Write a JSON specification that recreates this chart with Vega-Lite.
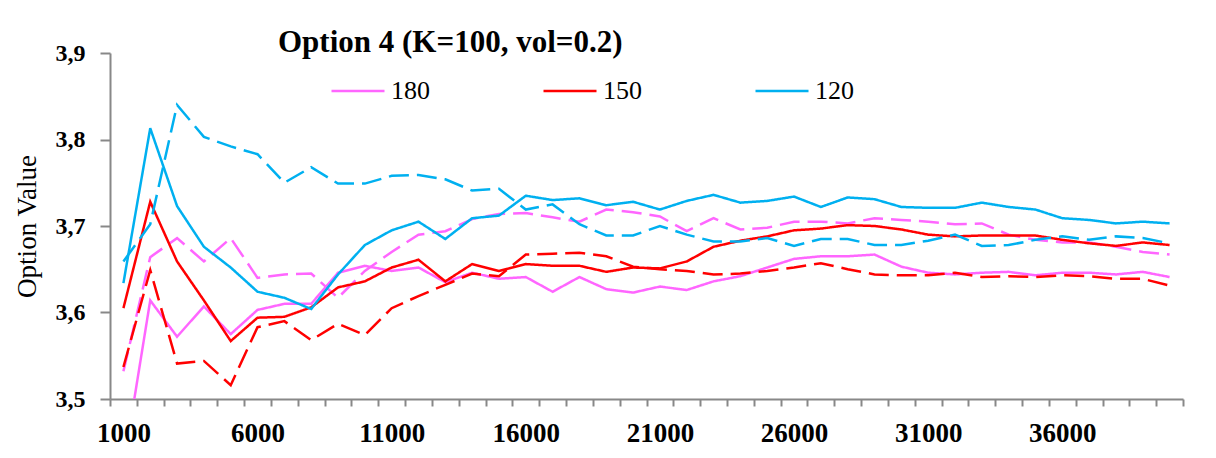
{
  "$schema": "https://vega.github.io/schema/vega-lite/v6.json",
  "autosize": "none",
  "width": 1073,
  "height": 346,
  "padding": {"left": 110, "top": 53, "right": 33, "bottom": 59},
  "background": "white",
  "title": {
    "text": "Option 4 (K=100, vol=0.2)",
    "anchor": "start",
    "frame": "group",
    "dx": 168,
    "offset": -18,
    "font": "Liberation Serif",
    "fontSize": 31,
    "fontWeight": "bold",
    "color": "black"
  },
  "datasets": {
    "runs": [
      {"n": 1000, "180 I": 3.422, "180 II": 3.532, "150 I": 3.605, "150 II": 3.537, "120 I": 3.634, "120 II": 3.659},
      {"n": 2000, "180 I": 3.614, "180 II": 3.664, "150 I": 3.728, "150 II": 3.649, "120 I": 3.813, "120 II": 3.702},
      {"n": 3000, "180 I": 3.572, "180 II": 3.686, "150 I": 3.659, "150 II": 3.541, "120 I": 3.723, "120 II": 3.840},
      {"n": 4000, "180 I": 3.607, "180 II": 3.659, "150 I": 3.614, "150 II": 3.544, "120 I": 3.676, "120 II": 3.803},
      {"n": 5000, "180 I": 3.575, "180 II": 3.686, "150 I": 3.567, "150 II": 3.516, "120 I": 3.652, "120 II": 3.792},
      {"n": 6000, "180 I": 3.603, "180 II": 3.640, "150 I": 3.594, "150 II": 3.583, "120 I": 3.624, "120 II": 3.783},
      {"n": 7000, "180 I": 3.610, "180 II": 3.644, "150 I": 3.595, "150 II": 3.590, "120 I": 3.617, "120 II": 3.750},
      {"n": 8000, "180 I": 3.610, "180 II": 3.645, "150 I": 3.606, "150 II": 3.568, "120 I": 3.604, "120 II": 3.768},
      {"n": 9000, "180 I": 3.646, "180 II": 3.617, "150 I": 3.629, "150 II": 3.587, "120 I": 3.644, "120 II": 3.749},
      {"n": 10000, "180 I": 3.654, "180 II": 3.648, "150 I": 3.636, "150 II": 3.574, "120 I": 3.678, "120 II": 3.749},
      {"n": 11000, "180 I": 3.648, "180 II": 3.670, "150 I": 3.652, "150 II": 3.605, "120 I": 3.695, "120 II": 3.758},
      {"n": 12000, "180 I": 3.652, "180 II": 3.690, "150 I": 3.661, "150 II": 3.619, "120 I": 3.705, "120 II": 3.759},
      {"n": 13000, "180 I": 3.635, "180 II": 3.694, "150 I": 3.636, "150 II": 3.632, "120 I": 3.685, "120 II": 3.754},
      {"n": 14000, "180 I": 3.646, "180 II": 3.708, "150 I": 3.656, "150 II": 3.645, "120 I": 3.709, "120 II": 3.741},
      {"n": 15000, "180 I": 3.639, "180 II": 3.714, "150 I": 3.648, "150 II": 3.642, "120 I": 3.712, "120 II": 3.743},
      {"n": 16000, "180 I": 3.641, "180 II": 3.715, "150 I": 3.656, "150 II": 3.667, "120 I": 3.735, "120 II": 3.719},
      {"n": 17000, "180 I": 3.624, "180 II": 3.710, "150 I": 3.654, "150 II": 3.668, "120 I": 3.730, "120 II": 3.725},
      {"n": 18000, "180 I": 3.641, "180 II": 3.705, "150 I": 3.654, "150 II": 3.669, "120 I": 3.732, "120 II": 3.702},
      {"n": 19000, "180 I": 3.627, "180 II": 3.719, "150 I": 3.647, "150 II": 3.665, "120 I": 3.724, "120 II": 3.689},
      {"n": 20000, "180 I": 3.623, "180 II": 3.716, "150 I": 3.652, "150 II": 3.653, "120 I": 3.728, "120 II": 3.689},
      {"n": 21000, "180 I": 3.630, "180 II": 3.711, "150 I": 3.651, "150 II": 3.650, "120 I": 3.719, "120 II": 3.700},
      {"n": 22000, "180 I": 3.626, "180 II": 3.694, "150 I": 3.659, "150 II": 3.648, "120 I": 3.729, "120 II": 3.690},
      {"n": 23000, "180 I": 3.636, "180 II": 3.709, "150 I": 3.676, "150 II": 3.644, "120 I": 3.736, "120 II": 3.682},
      {"n": 24000, "180 I": 3.642, "180 II": 3.696, "150 I": 3.683, "150 II": 3.645, "120 I": 3.727, "120 II": 3.682},
      {"n": 25000, "180 I": 3.652, "180 II": 3.698, "150 I": 3.688, "150 II": 3.648, "120 I": 3.729, "120 II": 3.686},
      {"n": 26000, "180 I": 3.662, "180 II": 3.705, "150 I": 3.695, "150 II": 3.652, "120 I": 3.734, "120 II": 3.677},
      {"n": 27000, "180 I": 3.665, "180 II": 3.705, "150 I": 3.697, "150 II": 3.657, "120 I": 3.722, "120 II": 3.685},
      {"n": 28000, "180 I": 3.665, "180 II": 3.703, "150 I": 3.701, "150 II": 3.650, "120 I": 3.733, "120 II": 3.685},
      {"n": 29000, "180 I": 3.667, "180 II": 3.709, "150 I": 3.700, "150 II": 3.644, "120 I": 3.731, "120 II": 3.678},
      {"n": 30000, "180 I": 3.653, "180 II": 3.707, "150 I": 3.696, "150 II": 3.643, "120 I": 3.722, "120 II": 3.678},
      {"n": 31000, "180 I": 3.646, "180 II": 3.705, "150 I": 3.690, "150 II": 3.643, "120 I": 3.721, "120 II": 3.683},
      {"n": 32000, "180 I": 3.644, "180 II": 3.702, "150 I": 3.688, "150 II": 3.646, "120 I": 3.721, "120 II": 3.690},
      {"n": 33000, "180 I": 3.646, "180 II": 3.703, "150 I": 3.689, "150 II": 3.641, "120 I": 3.727, "120 II": 3.677},
      {"n": 34000, "180 I": 3.647, "180 II": 3.690, "150 I": 3.689, "150 II": 3.642, "120 I": 3.722, "120 II": 3.678},
      {"n": 35000, "180 I": 3.643, "180 II": 3.684, "150 I": 3.689, "150 II": 3.641, "120 I": 3.719, "120 II": 3.684},
      {"n": 36000, "180 I": 3.646, "180 II": 3.681, "150 I": 3.684, "150 II": 3.643, "120 I": 3.709, "120 II": 3.688},
      {"n": 37000, "180 I": 3.646, "180 II": 3.681, "150 I": 3.680, "150 II": 3.642, "120 I": 3.707, "120 II": 3.684},
      {"n": 38000, "180 I": 3.644, "180 II": 3.676, "150 I": 3.677, "150 II": 3.639, "120 I": 3.703, "120 II": 3.688},
      {"n": 39000, "180 I": 3.647, "180 II": 3.670, "150 I": 3.681, "150 II": 3.639, "120 I": 3.705, "120 II": 3.686},
      {"n": 40000, "180 I": 3.641, "180 II": 3.667, "150 I": 3.678, "150 II": 3.631, "120 I": 3.703, "120 II": 3.680}
    ],
    "series": [
      {"series": "180 I", "spot": "180", "run": "I"},
      {"series": "180 II", "spot": "180", "run": "II"},
      {"series": "150 I", "spot": "150", "run": "I"},
      {"series": "150 II", "spot": "150", "run": "II"},
      {"series": "120 I", "spot": "120", "run": "I"},
      {"series": "120 II", "spot": "120", "run": "II"}
    ]
  },
  "data": {"name": "runs"},
  "transform": [
    {"fold": ["180 I", "180 II", "150 I", "150 II", "120 I", "120 II"], "as": ["series", "value"]},
    {"lookup": "series", "from": {"data": {"name": "series"}, "key": "series", "fields": ["spot", "run"]}}
  ],
  "mark": {"type": "line", "clip": true, "strokeWidth": 2.5, "strokeJoin": "miter", "strokeCap": "butt"},
  "encoding": {
    "x": {
      "field": "n",
      "type": "quantitative",
      "scale": {"domain": [500, 40500], "nice": false, "zero": false},
      "axis": {
        "title": null,
        "values": [500, 1500, 2500, 3500, 4500, 5500, 6500, 7500, 8500, 9500, 10500, 11500, 12500, 13500, 14500, 15500, 16500, 17500, 18500, 19500, 20500, 21500, 22500, 23500, 24500, 25500, 26500, 27500, 28500, 29500, 30500, 31500, 32500, 33500, 34500, 35500, 36500, 37500, 38500, 39500, 40500],
        "labelExpr": "datum.value % 5000 == 500 && datum.value < 40000 ? format(datum.value + 500, 'd') : ''",
        "labelOffset": 13.4,
        "labelFlush": false,
        "labelOverlap": false,
        "labelFont": "Liberation Serif",
        "labelFontSize": 27,
        "labelFontWeight": "bold",
        "labelColor": "black",
        "labelPadding": 14,
        "tickSize": 7,
        "tickWidth": 2,
        "tickColor": "#888888",
        "domainColor": "#888888",
        "domainWidth": 2,
        "grid": false
      }
    },
    "y": {
      "field": "value",
      "type": "quantitative",
      "scale": {"domain": [3.5, 3.9], "nice": false, "zero": false},
      "axis": {
        "title": "Option Value",
        "titleFont": "Liberation Serif",
        "titleFontSize": 27,
        "titleFontWeight": "normal",
        "titleColor": "black",
        "titlePadding": 14,
        "values": [3.5, 3.6, 3.7, 3.8, 3.9],
        "format": ".1f",
        "labelExpr": "replace(datum.label, '.', ',')",
        "labelFont": "Liberation Serif",
        "labelFontSize": 24,
        "labelFontWeight": "bold",
        "labelColor": "black",
        "labelPadding": 15,
        "tickSize": 10,
        "tickWidth": 2,
        "tickColor": "#888888",
        "domainColor": "#888888",
        "domainWidth": 2,
        "grid": false
      }
    },
    "color": {
      "field": "spot",
      "type": "nominal",
      "scale": {"domain": ["180", "150", "120"], "range": ["#FF66FF", "#FF0000", "#00B0F0"]},
      "legend": {
        "title": null,
        "orient": "none",
        "legendX": 220,
        "legendY": 10,
        "direction": "horizontal",
        "symbolType": "stroke",
        "symbolSize": 2809,
        "symbolStrokeWidth": 2.5,
        "labelFont": "Liberation Serif",
        "labelFontSize": 26,
        "labelColor": "black",
        "labelOffset": 5,
        "columnPadding": 108,
        "padding": 0
      }
    },
    "strokeDash": {
      "field": "run",
      "type": "nominal",
      "scale": {"domain": ["I", "II"], "range": [[1, 0], [20, 8]]},
      "legend": null
    },
    "detail": {"field": "series"}
  },
  "config": {
    "view": {"stroke": null}
  }
}
